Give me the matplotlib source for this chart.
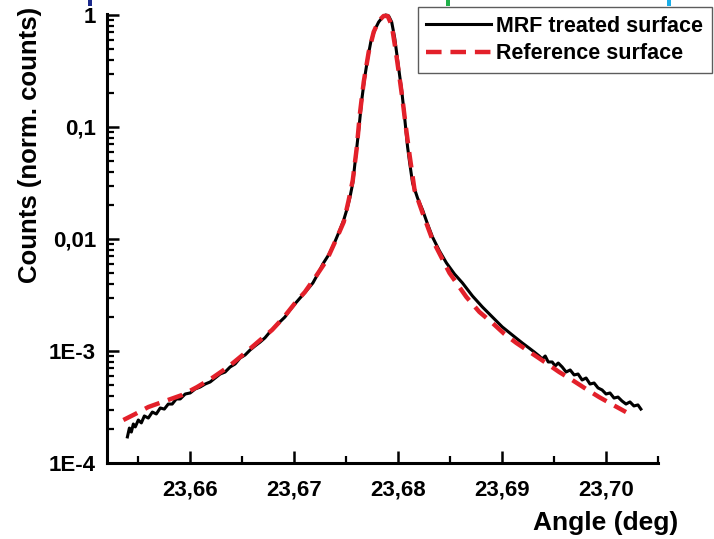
import numpy as np
import matplotlib
matplotlib.use("Agg")
import matplotlib.pyplot as plt
from matplotlib.ticker import FuncFormatter, LogLocator, MultipleLocator
from matplotlib.patches import Rectangle

plt.rcParams['font.family'] = ['Liberation Sans', 'DejaVu Sans']
plt.rcParams['font.weight'] = 'bold'

# MRF treated surface (measured, noisy)
mrf_angle = [23.65396, 23.65415, 23.65434, 23.65453, 23.65472, 23.65501, 23.65530, 23.65559,
             23.65597, 23.65636, 23.65674, 23.65712, 23.65751, 23.65789, 23.65827, 23.65866,
             23.65904, 23.65952, 23.66000, 23.66048, 23.66096, 23.66144, 23.66192, 23.66240,
             23.66288, 23.66336, 23.66384, 23.66432, 23.66480, 23.66528, 23.66576, 23.66624,
             23.66672, 23.66719, 23.66767, 23.66815, 23.66863, 23.66911, 23.66959, 23.67007,
             23.67074, 23.67132, 23.67180, 23.67228, 23.67276, 23.67343, 23.67391, 23.67439,
             23.67477, 23.67506, 23.67535, 23.67564, 23.67583, 23.67602, 23.67631, 23.67650,
             23.67679, 23.67708, 23.67737, 23.67775, 23.67813, 23.67852, 23.67880, 23.67909,
             23.67938, 23.67967, 23.67995, 23.68014, 23.68034, 23.68062, 23.68091, 23.68110,
             23.68139, 23.68187, 23.68235, 23.68283, 23.68331, 23.68398, 23.68465, 23.68542,
             23.68619, 23.68715, 23.68811, 23.68907, 23.69002, 23.69098, 23.69194, 23.69261,
             23.69309, 23.69357, 23.69386, 23.69415, 23.69444, 23.69482, 23.69511, 23.69540,
             23.69578, 23.69616, 23.69655, 23.69693, 23.69731, 23.69770, 23.69808, 23.69846,
             23.69885, 23.69923, 23.69962, 23.70000, 23.70038, 23.70077, 23.70115, 23.70153,
             23.70192, 23.70230, 23.70268, 23.70307, 23.70335]
mrf_counts = [1.71e-4, 2.05e-4, 1.89e-4, 2.23e-4, 2.10e-4, 2.42e-4, 2.28e-4, 2.63e-4,
              2.52e-4, 2.85e-4, 2.74e-4, 3.10e-4, 3.03e-4, 3.36e-4, 3.36e-4, 3.73e-4,
              3.73e-4, 4.13e-4, 4.22e-4, 4.58e-4, 4.77e-4, 5.07e-4, 5.29e-4, 5.74e-4,
              6.23e-4, 6.49e-4, 7.20e-4, 7.66e-4, 8.66e-4, 9.21e-4, 1.02e-3, 1.11e-3,
              1.20e-3, 1.31e-3, 1.48e-3, 1.64e-3, 1.82e-3, 2.01e-3, 2.32e-3, 2.63e-3,
              3.10e-3, 3.58e-3, 4.05e-3, 4.87e-3, 5.98e-3, 7.50e-3, 9.40e-3, 0.0120,
              0.0148, 0.0182, 0.0232, 0.0316, 0.0458, 0.0649, 0.1155, 0.174,
              0.279, 0.413, 0.574, 0.735, 0.866, 0.96, 1.0, 0.98,
              0.866, 0.623, 0.396, 0.291, 0.214, 0.123, 0.0663, 0.0487,
              0.0316, 0.0232, 0.0182, 0.0136, 0.0104, 7.81e-3, 6.11e-3, 4.87e-3,
              4.05e-3, 3.10e-3, 2.47e-3, 2.01e-3, 1.64e-3, 1.39e-3, 1.18e-3, 1.06e-3,
              9.80e-4, 9.02e-4, 8.49e-4, 9.02e-4, 7.98e-4, 7.98e-4, 7.35e-4, 7.81e-4,
              7.20e-4, 6.49e-4, 6.77e-4, 6.11e-4, 6.23e-4, 5.51e-4, 5.74e-4, 5.07e-4,
              5.18e-4, 4.68e-4, 4.49e-4, 4.13e-4, 4.22e-4, 3.80e-4, 3.88e-4, 3.58e-4,
              3.36e-4, 3.51e-4, 3.23e-4, 3.30e-4, 3.03e-4]

# Reference surface (smooth)
ref_angle = [23.65357, 23.65472, 23.65597, 23.65760, 23.65923, 23.66067, 23.66211, 23.66365,
             23.66528, 23.66672, 23.66787, 23.66902, 23.67017, 23.67103, 23.67218, 23.67314,
             23.67410, 23.67477, 23.67525, 23.67564, 23.67602, 23.67631, 23.67669, 23.67717,
             23.67765, 23.67813, 23.67861, 23.67899, 23.67938, 23.67976, 23.68014, 23.68043,
             23.68072, 23.68110, 23.68158, 23.68235, 23.68331, 23.68494, 23.68657, 23.68782,
             23.68907, 23.69022, 23.69137, 23.69281, 23.69424, 23.69549, 23.69674, 23.69808,
             23.69933, 23.70067, 23.70192]
ref_counts = [2.42e-4, 2.74e-4, 3.16e-4, 3.58e-4, 4.05e-4, 4.77e-4, 5.74e-4, 7.20e-4,
              9.60e-4, 1.25e-3, 1.54e-3, 2.01e-3, 2.74e-3, 3.36e-3, 4.77e-3, 6.49e-3,
              0.0102, 0.0142, 0.0223, 0.0336, 0.0649, 0.128, 0.252, 0.467,
              0.705, 0.884, 0.98, 0.98, 0.814, 0.487, 0.274, 0.174,
              0.104, 0.0562, 0.0274, 0.0171, 9.80e-3, 4.97e-3, 3.03e-3, 2.23e-3,
              1.78e-3, 1.42e-3, 1.18e-3, 9.60e-4, 7.81e-4, 6.49e-4, 5.51e-4, 4.58e-4,
              3.88e-4, 3.30e-4, 2.85e-4]

x_ticks = [23.66, 23.67, 23.68, 23.69, 23.70]
y_ticks = [1e-4, 1e-3, 1e-2, 1e-1, 1]
y_tick_labels = ['1E-4', '1E-3', '0,01', '0,1', '1']

fig = plt.figure(figsize=(7.14, 5.39), dpi=100)
ax = fig.add_axes([0.1499, 0.141, 0.7717, 0.833])

ax.plot(mrf_angle, mrf_counts, '-', color='black', lw=2.2, label='MRF treated surface',
        clip_on=False, zorder=2)
ax.plot(ref_angle, ref_counts, '--', color='#e3202a', lw=3.2, dashes=(3.5, 2.0),
        label='Reference surface', clip_on=False, zorder=3)

ax.set_yscale('log')
ax.set_xlim(23.652, 23.705)
ax.set_ylim(1e-4, 1.02)

# axes style: only left and bottom, ticks pointing in
for s in ['top', 'right']:
    ax.spines[s].set_visible(False)
for s in ['left', 'bottom']:
    ax.spines[s].set_linewidth(2.2)

ax.set_xticks(x_ticks)
ax.xaxis.set_minor_locator(MultipleLocator(0.005))
ax.xaxis.set_major_formatter(FuncFormatter(lambda v, p: ('%.2f' % v).replace('.', ',')))
ax.set_yticks(y_ticks)
ax.set_yticklabels(y_tick_labels)
ax.yaxis.set_minor_locator(LogLocator(base=10, subs=np.arange(2, 10)))
ax.yaxis.set_minor_formatter(plt.NullFormatter())

ax.tick_params(which='major', direction='in', length=8.5, width=1.8, labelsize=16)
ax.tick_params(which='minor', direction='in', length=5, width=1.6)
ax.tick_params(axis='x', which='major', pad=12)
ax.tick_params(axis='y', which='major', pad=8)
for lab in ax.get_xticklabels() + ax.get_yticklabels():
    lab.set_fontweight('bold')

# axis titles placed like the source figure
fig.text(30 / 714, 1 - 145 / 539, 'Counts (norm. counts)', rotation=90,
         ha='center', va='center', fontsize=18.5, fontweight='bold')
fig.text(678 / 714, 1 - 523 / 539, 'Angle (deg)', ha='right', va='center',
         fontsize=19, fontweight='bold')

leg = fig.legend(loc='upper right', bbox_to_anchor=(712 / 714, 1 - 7 / 539),
                 prop={'size': 15.5, 'weight': 'bold'}, frameon=True, fancybox=False,
                 handlelength=3.0, handletextpad=0.25, labelspacing=0.3,
                 borderpad=0.4, borderaxespad=0)
leg.get_frame().set_edgecolor('#333333')
leg.get_frame().set_linewidth(1.0)

# small coloured marks left at the top edge of the source image
for xp, col in [(88, '#1c2a8c'), (446, '#20b04a'), (667, '#1aaee8')]:
    fig.add_artist(Rectangle((xp / 714, 1 - 6 / 539), 4 / 714, 6 / 539,
                             transform=fig.transFigure, color=col, lw=0))

fig.savefig('out.png', dpi=100)
